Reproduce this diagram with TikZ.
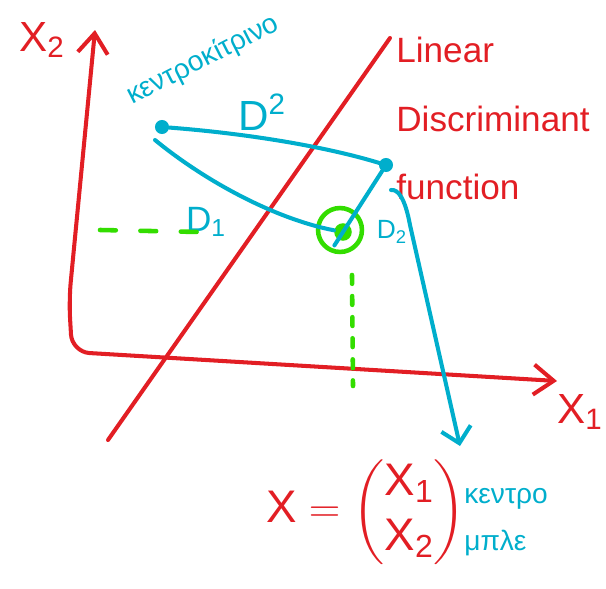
\documentclass[tikz,border=0pt]{standalone}
\usepackage{amsmath}
\usepackage{fontspec}
\setmainfont{Liberation Sans}
\usetikzlibrary{arrows.meta,calc,positioning}
\definecolor{penred}{RGB}{226,30,36}
\definecolor{penblue}{RGB}{0,174,204}
\definecolor{pengreen}{RGB}{51,221,0}

\begin{document}
\begin{tikzpicture}[x=0.02cm,y=-0.02cm,
  redpen/.style={draw=penred,line width=2.3pt,line cap=round,line join=round},
  bluepen/.style={draw=penblue,line width=2.3pt,line cap=round,line join=round},
  greendash/.style={draw=pengreen,line width=2.6pt,line cap=round,dash pattern=on 9pt off 14pt},
  axistips/.style={{Straight Barb[length=4mm,width=6mm,line width=2.3pt]}-{Straight Barb[length=4mm,width=6mm,line width=2.3pt]}},
  bluetip/.style={-{Straight Barb[length=3mm,width=6mm,line width=2.3pt]}},
  centre/.style={circle,fill=penblue,inner sep=0pt,minimum size=8pt},
  hit/.style={circle,fill=pengreen,inner sep=0pt,minimum size=10pt},
  ring/.style={circle,draw=pengreen,line width=2.6pt,inner sep=0pt,minimum size=25pt},
  redtext/.style={text=penred,inner sep=0pt,font=\fontsize{20}{39}\selectfont},
  bluetext/.style={text=penblue,inner sep=0pt,font=\fontsize{16}{27}\selectfont}]
  \useasboundingbox (0,0) rectangle (606,589);

  % axes
  \coordinate (o) at (72,352);
  \coordinate (ytop) at (95,30);
  \coordinate (xend) at (557,381);
  \draw[redpen,axistips,rounded corners=10pt] (ytop) -- (69,300) -- (o) -- (xend);
  \node[redtext,font=\fontsize{24}{28}\selectfont] (xtwo) at (42,40) {X\textsubscript{2}};
  \node[redtext,font=\fontsize{24}{28}\selectfont] (xone) at (580,412) {X\textsubscript{1}};

  % discriminant line
  \coordinate (lbot) at (108,440);
  \coordinate (ltop) at (390,38);
  \draw[redpen] (lbot) -- (ltop);
  \node[redtext,align=left,anchor=north west] (ldf) at (396,37) {Linear\\Discriminant\\function};

  % the two centres and the new point
  \node[centre] (cy) at (162,127) {};
  \node[centre] (cb) at (386,165) {};
  \node[hit] (g) at (343,232) {};
  \node[ring] (gr) at (340,230) {};
  \node[bluetext,rotate=27] (ylbl) at (203,60) {κεντροκίτρινο};

  % distances
  \draw[bluepen] (cy) .. controls (240,133) and (320,145) .. (cb);
  \draw[bluepen] ($(cy)+(-7,13)$) .. controls (210,185) and (280,220) .. (g);
  \draw[bluepen] (cb) -- ($(cb)!1.2!(g)$);
  \node[bluetext,font=\fontsize{24}{28}\selectfont] (dsq) at (262,112) {D\textsuperscript{2}};
  \node[bluetext,font=\fontsize{20}{24}\selectfont] (done) at (206,222) {D\textsubscript{1}};
  \node[bluetext,font=\fontsize{15}{18}\selectfont] (dtwo) at (392,232) {D\textsubscript{2}};

  % projections
  \draw[greendash] (100,230) -- (200,232);
  \draw[greendash,dash pattern=on 5pt off 7pt] (352,275) -- (353,386);

  % arrow to the vector
  \coordinate (tipb) at (460,446);
  \draw[bluepen,bluetip] ($(cb)+(5,25)$) .. controls (398,189) and (405,198) .. (410,225) -- (tipb);
  \node[redtext,font=\fontsize{26}{31}\selectfont] (vec) at (366,512)
    {\(\text{X} = \begin{pmatrix}\text{X\textsubscript{1}}\\ \text{X\textsubscript{2}}\end{pmatrix}\)};
  \node[bluetext,align=left,anchor=west] (blbl) at (464,522) {κεντρο\\μπλε};
\end{tikzpicture}
\end{document}
